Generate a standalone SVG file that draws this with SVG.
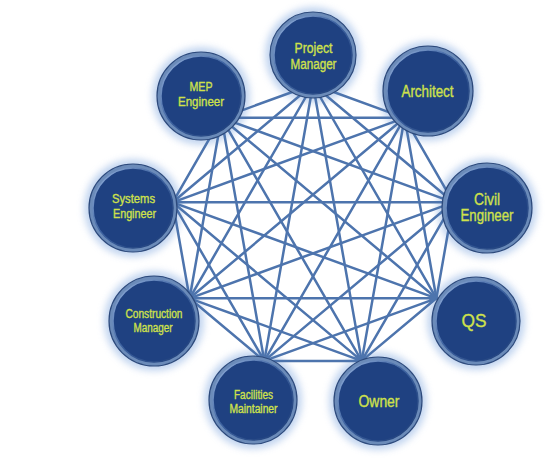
<svg xmlns="http://www.w3.org/2000/svg" width="558" height="464" viewBox="0 0 558 464">
<defs>
<filter id="blur" x="-30%" y="-30%" width="160%" height="160%"><feGaussianBlur stdDeviation="3.5"/></filter>
<linearGradient id="hl" x1="0" y1="0" x2="1" y2="1">
<stop offset="0" stop-color="#9db9e2"/>
<stop offset="0.45" stop-color="#3d62a0"/>
<stop offset="1" stop-color="#1b3a74"/>
</linearGradient>
<style>
.glow{fill:#b4cbec;opacity:0.8;filter:url(#blur)}
.ring{fill:#6b8bb9;stroke:#2d4a7c;stroke-width:1.2}
.core{fill:#1f4181;stroke:url(#hl);stroke-width:1.5}
.edge{stroke:#4d74ad;stroke-width:2.5;fill:none;stroke-linecap:round}
.t{font-family:"Liberation Sans",Arial,sans-serif;fill:#cfe14b;stroke:#cfe14b;stroke-width:0.35;text-anchor:middle}
</style>
</defs>
<rect width="558" height="464" fill="#ffffff"/>
<g id="glows">
<circle class="glow" cx="313" cy="55" r="48"/>
<circle class="glow" cx="428" cy="91" r="50"/>
<circle class="glow" cx="487" cy="208" r="50"/>
<circle class="glow" cx="476" cy="321" r="49"/>
<circle class="glow" cx="378" cy="401" r="49"/>
<circle class="glow" cx="253" cy="400" r="49"/>
<circle class="glow" cx="154" cy="321" r="50"/>
<circle class="glow" cx="133" cy="208" r="49"/>
<circle class="glow" cx="201" cy="96" r="49"/>
</g>
<g id="connectors" class="edge">
<path d="M313,84.5L404.6,117.8M313,84.5L453.3,202.3M313,84.5L436.4,298.3M313,84.5L361.7,360.9M313,84.5L264.3,360.9M313,84.5L189.6,298.3M313,84.5L172.7,202.3M313,84.5L221.4,117.8"/>
<path d="M404.6,117.8L453.3,202.3M404.6,117.8L436.4,298.3M404.6,117.8L361.7,360.9M404.6,117.8L264.3,360.9M404.6,117.8L189.6,298.3M404.6,117.8L172.7,202.3M404.6,117.8L221.4,117.8"/>
<path d="M453.3,202.3L436.4,298.3M453.3,202.3L361.7,360.9M453.3,202.3L264.3,360.9M453.3,202.3L189.6,298.3M453.3,202.3L172.7,202.3M453.3,202.3L221.4,117.8"/>
<path d="M436.4,298.3L361.7,360.9M436.4,298.3L264.3,360.9M436.4,298.3L189.6,298.3M436.4,298.3L172.7,202.3M436.4,298.3L221.4,117.8"/>
<path d="M361.7,360.9L264.3,360.9M361.7,360.9L189.6,298.3M361.7,360.9L172.7,202.3M361.7,360.9L221.4,117.8"/>
<path d="M264.3,360.9L189.6,298.3M264.3,360.9L172.7,202.3M264.3,360.9L221.4,117.8"/>
<path d="M189.6,298.3L172.7,202.3M189.6,298.3L221.4,117.8"/>
<path d="M172.7,202.3L221.4,117.8"/>
</g>
<g id="project-manager">
<circle class="ring" cx="313" cy="55" r="43"/>
<circle class="core" cx="313" cy="55" r="39"/>
<text class="t" font-size="14" x="313.5" y="53" textLength="38" lengthAdjust="spacingAndGlyphs">Project</text>
<text class="t" font-size="14" x="313.5" y="69" textLength="46" lengthAdjust="spacingAndGlyphs">Manager</text>
</g>
<g id="architect">
<circle class="ring" cx="428" cy="91" r="45"/>
<circle class="core" cx="428" cy="91" r="41"/>
<text class="t" font-size="16" x="427.5" y="97" textLength="52" lengthAdjust="spacingAndGlyphs">Architect</text>
</g>
<g id="civil-engineer">
<circle class="ring" cx="487" cy="208" r="45"/>
<circle class="core" cx="487" cy="208" r="41"/>
<text class="t" font-size="16" x="487" y="205" textLength="26" lengthAdjust="spacingAndGlyphs">Civil</text>
<text class="t" font-size="16" x="487" y="221" textLength="53" lengthAdjust="spacingAndGlyphs">Engineer</text>
</g>
<g id="qs">
<circle class="ring" cx="476" cy="321" r="44"/>
<circle class="core" cx="476" cy="321" r="40"/>
<text class="t" font-size="18" x="474" y="327" textLength="25" lengthAdjust="spacingAndGlyphs">QS</text>
</g>
<g id="owner">
<circle class="ring" cx="378" cy="401" r="44"/>
<circle class="core" cx="378" cy="401" r="40"/>
<text class="t" font-size="16" x="379" y="407" textLength="41" lengthAdjust="spacingAndGlyphs">Owner</text>
</g>
<g id="facilities-maintainer">
<circle class="ring" cx="253" cy="400" r="44"/>
<circle class="core" cx="253" cy="400" r="40"/>
<text class="t" font-size="12" x="253.5" y="398.5" textLength="39" lengthAdjust="spacingAndGlyphs">Facilities</text>
<text class="t" font-size="12" x="253.5" y="413" textLength="48" lengthAdjust="spacingAndGlyphs">Maintainer</text>
</g>
<g id="construction-manager">
<circle class="ring" cx="154" cy="321" r="45"/>
<circle class="core" cx="154" cy="321" r="41"/>
<text class="t" font-size="12" x="154" y="317.5" textLength="57" lengthAdjust="spacingAndGlyphs">Construction</text>
<text class="t" font-size="12" x="153" y="332" textLength="39" lengthAdjust="spacingAndGlyphs">Manager</text>
</g>
<g id="systems-engineer">
<circle class="ring" cx="133" cy="208" r="44"/>
<circle class="core" cx="133" cy="208" r="40"/>
<text class="t" font-size="13" x="133.5" y="203" textLength="43" lengthAdjust="spacingAndGlyphs">Systems</text>
<text class="t" font-size="13" x="134.5" y="218" textLength="43" lengthAdjust="spacingAndGlyphs">Engineer</text>
</g>
<g id="mep-engineer">
<circle class="ring" cx="201" cy="96" r="44"/>
<circle class="core" cx="201" cy="96" r="40"/>
<text class="t" font-size="13" x="201" y="91" textLength="23" lengthAdjust="spacingAndGlyphs">MEP</text>
<text class="t" font-size="13" x="201" y="106" textLength="46" lengthAdjust="spacingAndGlyphs">Engineer</text>
</g>
</svg>
